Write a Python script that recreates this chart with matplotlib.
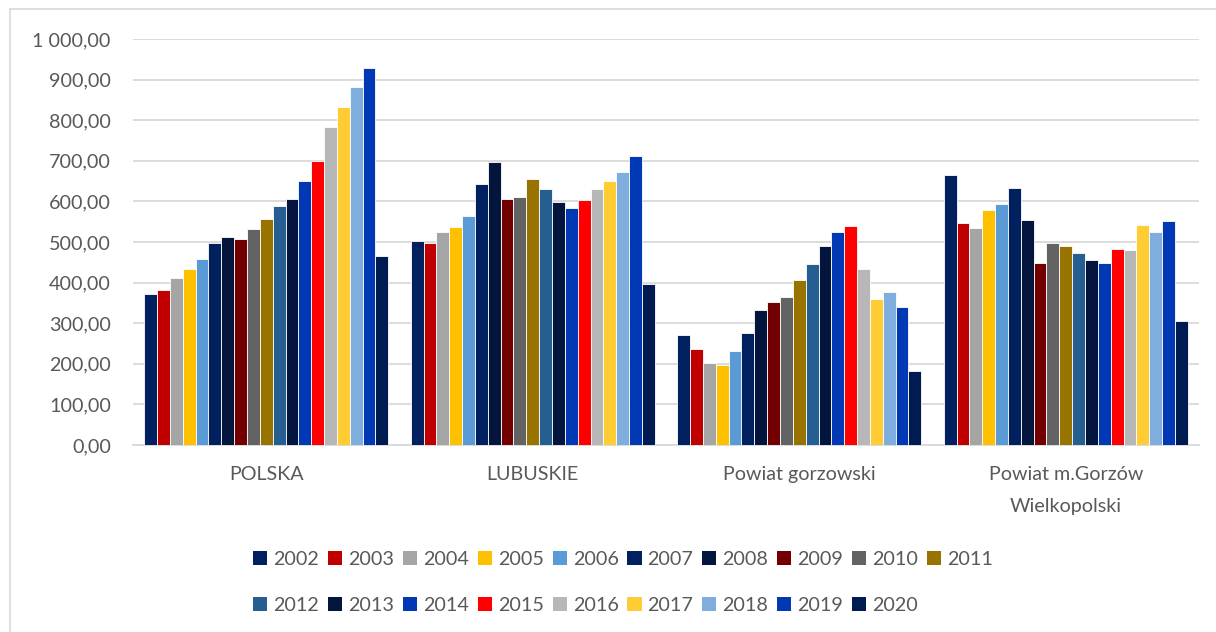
import matplotlib
matplotlib.use("Agg")
import matplotlib.pyplot as plt
from matplotlib.patches import Patch
from matplotlib.lines import Line2D
from matplotlib.ticker import FuncFormatter
import numpy as np

categories = ["POLSKA", "LUBUSKIE", "Powiat gorzowski", "Powiat m.Gorzów\nWielkopolski"]
years = [str(y) for y in range(2002, 2021)]

polska = [372, 383, 412, 434, 459, 497, 512, 507, 531, 557, 589, 607, 651, 700, 783, 832, 881, 929, 466]
lubuskie = [502, 498, 524, 537, 563, 644, 697, 605, 612, 655, 631, 599, 583, 604, 630, 650, 672, 712, 396]
gorzowski = [270, 236, 202, 198, 231, 276, 332, 352, 364, 406, 446, 489, 525, 539, 433, 360, 378, 341, 183]
gorzow_m = [664, 547, 534, 579, 593, 633, 554, 448, 497, 491, 473, 455, 448, 483, 480, 543, 524, 551, 305]

colors = ["#002060", "#C00000", "#A5A5A5", "#FFC000", "#5B9BD5", "#002060", "#03143D",
          "#720000", "#636363", "#997300", "#255E91", "#03143D", "#0039B3", "#FF0000",
          "#B7B7B7", "#FFCD33", "#7FAEDE", "#0039B3", "#001B52"]

series = np.array([polska, lubuskie, gorzowski, gorzow_m])  # shape (4, 19)

plt.rcParams['font.family'] = ['Lato', 'DejaVu Sans']
text_color = "#595959"
grid_color = "#D9D9D9"
fs = 14.2

fig = plt.figure(figsize=(12.16, 6.32), dpi=100)
ax = fig.add_axes([133/1216, 1 - 445/632, (1199-133)/1216, (445-39)/632])

n = len(years)
group_w = 0.916
w = group_w / n
x = np.arange(len(categories))
handles = []
for j, yr in enumerate(years):
    offs = (j - (n - 1) / 2) * w
    ax.bar(x + offs, series[:, j], width=w, color=colors[j], edgecolor="white",
           linewidth=0.6, zorder=3, label=yr)
    handles.append(Patch(facecolor=colors[j], edgecolor='none', label=yr))

ax.set_xlim(-0.5, len(categories) - 0.5)
ax.set_ylim(0, 1000)
ax.set_yticks(np.arange(0, 1001, 100))


def fmt(v, pos):
    s = f"{v:,.2f}".replace(",", " ").replace(".", ",")
    return s


ax.yaxis.set_major_formatter(FuncFormatter(fmt))
ax.grid(axis='y', color=grid_color, linewidth=1.3, zorder=0)
for s in ['top', 'right', 'left']:
    ax.spines[s].set_visible(False)
ax.spines['bottom'].set_color(grid_color)
ax.spines['bottom'].set_linewidth(1.3)
ax.tick_params(axis='both', length=0, colors=text_color, labelsize=fs)
ax.tick_params(axis='y', pad=16)
ax.tick_params(axis='x', pad=15)
ax.set_xticks(x)
ax.set_xticklabels(categories, linespacing=2.1)

# legend: 10 columns, row-major order
order = []
for i in range(9):
    order.append(i)
    order.append(i + 10)
order.append(9)
leg = fig.legend([handles[i] for i in order], [years[i] for i in order],
                 loc='center', bbox_to_anchor=(623/1216, 1 - 582.5/632), ncol=10,
                 frameon=False, fontsize=fs, handlelength=0.72, handleheight=0.72,
                 handletextpad=0.3, columnspacing=0.45, labelspacing=1.5,
                 labelcolor=text_color)

# outer frame (partially visible)
fig.add_artist(Line2D([10/1216, 1], [1 - 9/632, 1 - 9/632], transform=fig.transFigure,
                      color=grid_color, linewidth=1.2))
fig.add_artist(Line2D([10/1216, 10/1216], [0, 1 - 9/632], transform=fig.transFigure,
                      color=grid_color, linewidth=1.2))

fig.savefig("out.png", dpi=100)
